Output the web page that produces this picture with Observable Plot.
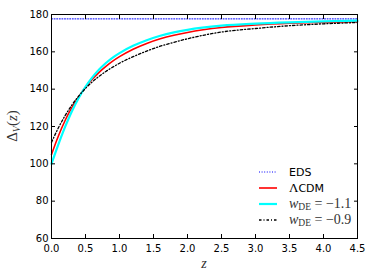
<!DOCTYPE html>
<html>
<head>
<meta charset="utf-8">
<script src="https://cdn.jsdelivr.net/npm/d3@7"></script>
<script src="https://cdn.jsdelivr.net/npm/@observablehq/plot@0.6"></script>
<style>
  html, body { margin: 0; padding: 0; background: #fff; }
  #wrap { position: relative; width: 374px; height: 280px; }
  #legend { position: absolute; left: 259px; top: 164px; font-family: "DejaVu Sans", sans-serif; font-size: 11px; color: #000; }
  .row { display: flex; align-items: center; height: 16px; }
  .row svg { width: 18px; height: 8px; margin-right: 12px; }
  .math { font-family: "Liberation Serif", serif; font-size: 14px; color: #333; }
  .math i { font-style: italic; }
  .math sub { font-size: 9.5px; vertical-align: -2px; font-style: normal; }
</style>
</head>
<body>
<div id="wrap"><div id="chart"></div><div id="legend"></div></div>
<script>
// Data
const zGrid = [0, 0.1, 0.2, 0.3, 0.4, 0.5, 0.6, 0.7, 0.8, 0.9, 1.0, 1.2, 1.4, 1.6, 1.8, 2.0, 2.5, 3.0, 3.5, 4.0, 4.5];
const lcdm  = [105, 114.8, 123.2, 130.2, 136, 141, 145.3, 149, 152.2, 155, 157.4, 161.4, 164.5, 167, 168.9, 170.4, 173, 174.4, 175.3, 175.8, 176.2];
const wm11  = [100, 110.3, 119.8, 128.2, 135.3, 141.3, 146.3, 150.5, 154, 156.9, 159.3, 163.2, 166.2, 168.6, 170.4, 171.8, 174, 175.1, 175.8, 176.3, 176.7];
const wm09  = [111.5, 119.2, 125.8, 131.5, 136.3, 140.4, 143.9, 146.9, 149.5, 151.8, 153.9, 157.4, 160.4, 163, 165.1, 167, 170.6, 172.5, 174, 175, 175.7];
const edsZ  = [0, 4.5];
const edsV  = [177.65, 177.65];
const xTicks = [0, 0.5, 1, 1.5, 2, 2.5, 3, 3.5, 4, 4.5];
const yTicks = [60, 80, 100, 120, 140, 160, 180];
const seriesNames = ["EDS", "ΛCDM", "w_DE = −1.1", "w_DE = −0.9"];

const pts = (xs, ys) => xs.map((x, i) => ({x, y: ys[i]}));

const styles = [
  {stroke: "blue", strokeWidth: 1, strokeDasharray: "1,1.6"},
  {stroke: "red", strokeWidth: 1.6},
  {stroke: "cyan", strokeWidth: 2.2},
  {stroke: "black", strokeWidth: 1.3, strokeDasharray: "2.5,2,1,2"}
];

const chart = Plot.plot({
  width: 374, height: 280,
  marginLeft: 51, marginRight: 17, marginTop: 14, marginBottom: 42,
  x: {domain: [0, 4.5]},
  y: {domain: [60, 180]},
  style: {fontFamily: "DejaVu Sans, sans-serif", fontSize: "10px", background: "white", color: "black"},
  marks: [
    Plot.line(pts(edsZ, edsV), {x: "x", y: "y", ...styles[0]}),
    Plot.line(pts(zGrid, lcdm), {x: "x", y: "y", curve: "monotone-x", ...styles[1]}),
    Plot.line(pts(zGrid, wm11), {x: "x", y: "y", curve: "monotone-x", ...styles[2]}),
    Plot.line(pts(zGrid, wm09), {x: "x", y: "y", curve: "monotone-x", ...styles[3]}),
    Plot.axisX({ticks: xTicks, tickFormat: d => d.toFixed(1), tickSize: -4, tickPadding: 10, label: null}),
    Plot.axisX({anchor: "top", ticks: xTicks, tickSize: -4, tickFormat: () => "", label: null}),
    Plot.axisY({ticks: yTicks, tickFormat: d => String(d), tickSize: -4, tickPadding: 7, label: null}),
    Plot.axisY({anchor: "right", ticks: yTicks, tickSize: -4, tickFormat: () => "", label: null}),
    Plot.frame({stroke: "black", strokeWidth: 1})
  ]
});
document.getElementById("chart").appendChild(chart);

// axis titles with math styling
const svg = d3.select(chart);
const yl = svg.append("text")
  .attr("transform", "translate(17,126) rotate(-90)")
  .attr("text-anchor", "middle")
  .attr("font-family", "Liberation Serif, serif")
  .attr("font-size", 15).attr("fill", "#333");
yl.append("tspan").text("Δ");
yl.append("tspan").attr("font-style", "italic").attr("font-size", 10).attr("dy", 3).text("V");
yl.append("tspan").attr("dy", -3).text("(");
yl.append("tspan").attr("font-style", "italic").text("z");
yl.append("tspan").text(")");
svg.append("text")
  .attr("x", 204).attr("y", 268)
  .attr("text-anchor", "middle")
  .attr("font-family", "Liberation Serif, serif")
  .attr("font-style", "italic")
  .attr("font-size", 14).attr("fill", "#333")
  .text("z");

// legend
const legend = d3.select("#legend");
seriesNames.forEach((name, i) => {
  const row = legend.append("div").attr("class", "row");
  const sw = row.append("svg");
  sw.append("line").attr("x1", 0).attr("x2", 18).attr("y1", 4).attr("y2", 4)
    .attr("stroke", styles[i].stroke).attr("stroke-width", styles[i].strokeWidth)
    .attr("stroke-dasharray", styles[i].strokeDasharray || null);
  const lab = row.append("span");
  if (name.startsWith("w_DE")) {
    lab.attr("class", "math").html('<i>w</i><sub>DE</sub> = ' + name.split("= ")[1]);
  } else if (name.startsWith("Λ")) {
    lab.html('<span class="math" style="color:#000;font-size:13px">Λ</span>' + name.slice(1));
  } else {
    lab.text(name);
  }
});
</script>
</body>
</html>
